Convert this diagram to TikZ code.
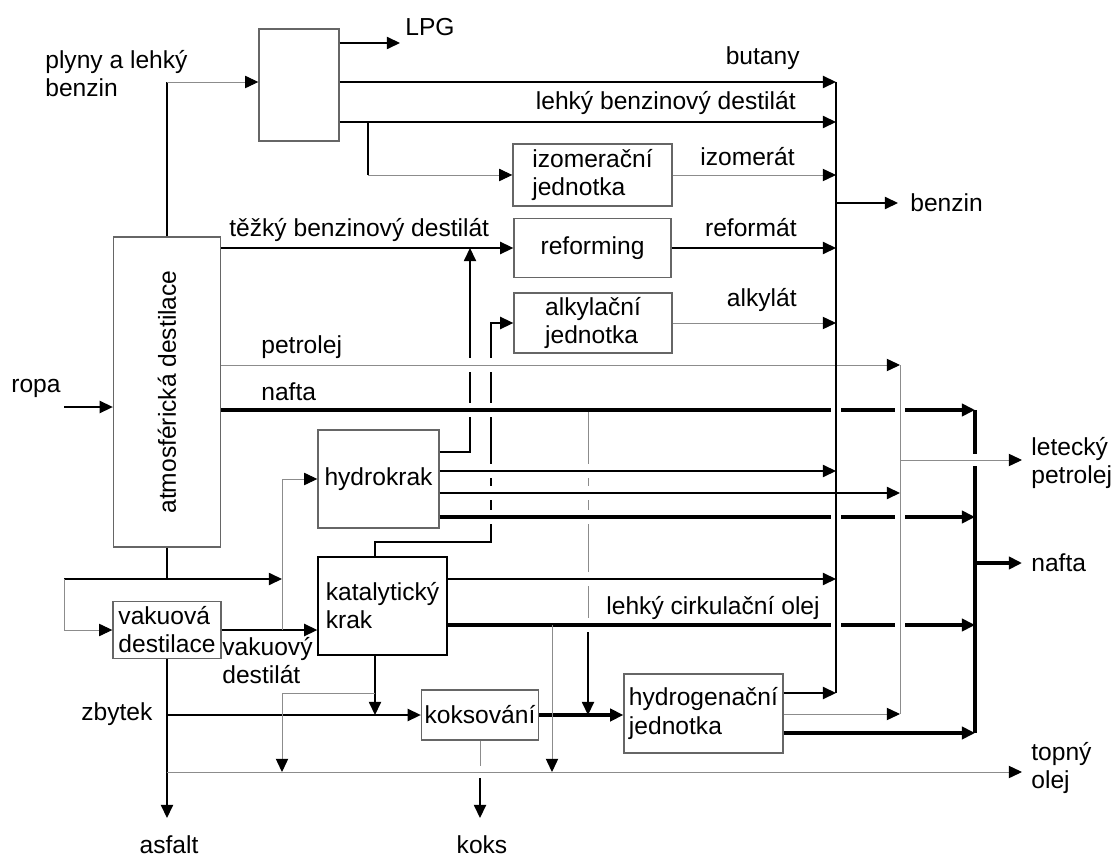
\documentclass[tikz,border=0pt]{standalone}
\usepackage{fontspec}
\setmainfont{Liberation Sans}
\usepackage{graphicx}
\usepackage{tikz}
\usetikzlibrary{arrows.meta}
\tikzset{
    box/.style={draw=black!60, line width=0.8pt, inner sep=2pt}, % process unit
    ln/.style={line width=0.75pt}, % thin black stream
    gln/.style={line width=0.55pt, black!45, >={Triangle[length=7.5pt, width=7pt, black]}}, % thin grey stream
    thk/.style={line width=2.4pt}, % heavy stream
    lbl/.style={inner sep=0pt}, % stream label
    cut/.style={fill=white} % break where one stream passes under another
}

\begin{document}
\begin{tikzpicture}[x=0.02cm, y=-0.02cm, >={Triangle[length=7.5pt, width=7pt]},
        font=\fontsize{14}{16}\selectfont]
    \useasboundingbox (0,0) rectangle (1115,861);

    % units
    \node[box, minimum width=1.6cm, minimum height=2.24cm] (split) at (299,85) {};
    \node[box, minimum width=2.14cm, minimum height=6.2cm] (atm) at (167,392) {\rotatebox{90}{atmosférická destilace}};
    \node[box, minimum width=3.18cm, minimum height=1.24cm, align=left] (izo) at (592.5,175) {izomerační\\jednotka};
    \node[box, minimum width=3.14cm, minimum height=1.18cm] (ref) at (592.5,248) {reforming};
    \node[box, minimum width=3.16cm, minimum height=1.2cm, align=left] (alk) at (593,323) {alkylační\\jednotka};
    \node[box, minimum width=2.42cm, minimum height=1.96cm] (hk) at (378.5,479) {hydrokrak};
    \node[box, minimum width=2.16cm, minimum height=1.14cm, align=left] (vak) at (167,630) {vakuová\\destilace};
    \node[box, draw=black, minimum width=2.58cm, minimum height=1.96cm, align=left] (kk) at (382.5,606) {katalytický\\krak};
    \node[box, minimum width=2.34cm, minimum height=1cm, inner sep=1pt] (kok) at (480,715) {koksování};
    \node[box, minimum width=3.18cm, minimum height=1.58cm, align=left] (hyd) at (703.5,713.5) {hydrogenační\\jednotka};

    % collectors and free ends
    \coordinate (benzTop) at (836,82);
    \coordinate (benzBot) at (836,693);
    \coordinate (letTop) at (900,365);
    \coordinate (letBot) at (900,714);
    \coordinate (naftTop) at (975,410);
    \coordinate (naftBot) at (975,733);
    \coordinate (lpgEnd) at (400,43);
    \coordinate (benzEnd) at (898,203);
    \coordinate (letEnd) at (1022,460);
    \coordinate (naftEnd) at (1022,563);
    \coordinate (topEnd) at (1022,772);
    \coordinate (ropaEnd) at (64,407);
    \coordinate (asfEnd) at (167,818);
    \coordinate (koksEnd) at (480,818);
    % bends
    \coordinate (plyn) at (167,82);
    \coordinate (izoBr) at (368,122);
    \coordinate (izoIn) at (368,175);
    \coordinate (hkUp) at (470,248);
    \coordinate (kkUp) at (491,542);
    \coordinate (atmLow) at (167,579);
    \coordinate (loop) at (64,579);
    \coordinate (vakUp) at (282,630);
    \coordinate (zbyt) at (167,715);
    \coordinate (kkDown) at (375,715);
    \coordinate (kkBr) at (375,693);
    \coordinate (kkBrEnd) at (282,772);
    \coordinate (naftDown) at (588,410);
    \coordinate (naftMid) at (588,625);
    \coordinate (naftIn) at (588,715);
    \coordinate (lcoDown) at (552,625);

    % streams that are crossed
    \draw[ln,->] (hk.east |- 0,452) -| (hkUp);
    \draw[ln,->] (kk.north -| 375,0) |- (kkUp) |- (alk.west);
    \draw[gln] (naftDown) -- (naftMid);
    \draw[ln,->] (naftMid) -- (naftIn);
    \foreach \x/\y in {470/365, 470/410, 491/365, 491/410, 491/471, 491/493, 491/517,
                       588/471, 588/493, 588/517, 588/579, 588/625}
        \fill[cut] (\x-4,\y-7) rectangle (\x+4,\y+7);

    % top part
    \draw[ln] (atm.north) -- (plyn);
    \draw[gln,->] (plyn) -- (split.west |- plyn);
    \draw[ln,->] (split.east |- lpgEnd) -- (lpgEnd);
    \draw[ln,->] (split.east |- benzTop) -- (benzTop);
    \draw[ln,->] (split.east |- izoBr) -- (benzTop |- izoBr);
    \draw[ln] (izoBr) -- (izoIn);
    \draw[gln,->] (izoIn) -- (izo.west);
    \draw[gln,->] (izo.east) -- (benzTop |- izo.east);
    \draw[ln,->] (atm.east |- ref.west) -- (ref.west);
    \draw[ln,->] (ref.east) -- (benzTop |- ref.east);
    \draw[gln,->] (alk.east) -- (benzTop |- alk.east);
    \draw[ln,->] (ropaEnd) -- (atm.west |- ropaEnd);

    % side streams of the columns
    \draw[gln,->] (atm.east |- letTop) -- (letTop);
    \draw[thk,->] (atm.east |- naftTop) -- (naftTop);
    \draw[ln,->] (hk.east |- 0,471) -- (benzTop |- 0,471);
    \draw[ln,->] (hk.east |- 0,493) -- (letTop |- 0,493);
    \draw[thk,->] (hk.east |- 0,517) -- (naftTop |- 0,517);
    \draw[ln,->] (kk.east |- 0,579) -- (benzTop |- 0,579);
    \draw[thk,->] (kk.east |- lcoDown) -- (naftTop |- lcoDown);

    % bottom part
    \draw[ln] (atm.south) -- (atmLow);
    \draw[ln,->] (loop) -- (vakUp |- loop);
    \draw[gln,->] (loop) |- (vak.west);
    \draw[ln,->] (vak.east) -- (kk.west |- vak.east);
    \draw[gln,->] (vakUp) |- (hk.west);
    \draw[ln,->] (vak.south) -- (asfEnd);
    \draw[ln,->] (zbyt) -- (kok.west);
    \draw[ln,->] (kk.south -| kkDown) -- (kkDown);
    \draw[gln,->] (kkBr) -| (kkBrEnd);
    \draw[thk,->] (kok.east) -- (hyd.west |- kok.east);
    \draw[gln,->] (lcoDown) -- (lcoDown |- topEnd);
    \draw[gln,->] (zbyt |- topEnd) -- (topEnd);
    \draw[gln] (kok.south) -- (kok.south |- 0,766);
    \draw[ln,->] (kok.south |- 0,778) -- (koksEnd);
    \draw[ln,->] (hyd.east |- benzBot) -- (benzBot);
    \draw[gln,->] (hyd.east |- letBot) -- (letBot);
    \draw[thk,->] (hyd.east |- naftBot) -- (naftBot);

    % collectors
    \foreach \x in {836,900} \foreach \y in {410,517,625}
        \fill[cut] (\x-5,\y-5) rectangle (\x+5,\y+5);
    \draw[ln] (benzTop) -- (benzBot);
    \draw[gln] (letTop) -- (letBot);
    \draw[thk] (naftTop) -- (naftBot);
    \fill[cut] (970,454) rectangle (980,466);
    \draw[ln,->] (benzTop |- benzEnd) -- (benzEnd);
    \draw[gln,->] (letTop |- letEnd) -- (letEnd);
    \draw[thk,->] (naftTop |- naftEnd) -- (naftEnd);

    % labels
    \node[lbl, anchor=west, align=left] (lplyn) at (45,74) {plyny a lehký\\benzin};
    \node[lbl, anchor=west] (llpg) at (405,27) {LPG};
    \node[lbl, anchor=east] (lbut) at (800,58) {butany};
    \node[lbl, anchor=east] (llbd) at (796,103) {lehký benzinový destilát};
    \node[lbl, anchor=east] (lizo) at (795,157) {izomerát};
    \node[lbl, anchor=east] (lref) at (797,228) {reformát};
    \node[lbl, anchor=east] (lalk) at (797,300) {alkylát};
    \node[lbl, anchor=west] (ltbd) at (229,230) {těžký benzinový destilát};
    \node[lbl, anchor=west] (lbenz) at (910,203) {benzin};
    \node[lbl, anchor=west] (lropa) at (11,388) {ropa};
    \node[lbl, anchor=west] (lpetr) at (261,347) {petrolej};
    \node[lbl, anchor=west] (lnaft) at (261,392) {nafta};
    \node[lbl, anchor=west, align=left] (llet) at (1031,463) {letecký\\petrolej};
    \node[lbl, anchor=west] (lnaft2) at (1031,563) {nafta};
    \node[lbl, anchor=east] (llco) at (820,608) {lehký cirkulační olej};
    \node[lbl, anchor=west, align=left] (lvd) at (222,661) {vakuový\\destilát};
    \node[lbl, anchor=west] (lzbyt) at (81,714) {zbytek};
    \node[lbl, anchor=west, align=left] (ltop) at (1031,768) {topný\\olej};
    \node[lbl] (lasf) at (169,845) {asfalt};
    \node[lbl] (lkoks) at (482,845) {koks};
\end{tikzpicture}
\end{document}
